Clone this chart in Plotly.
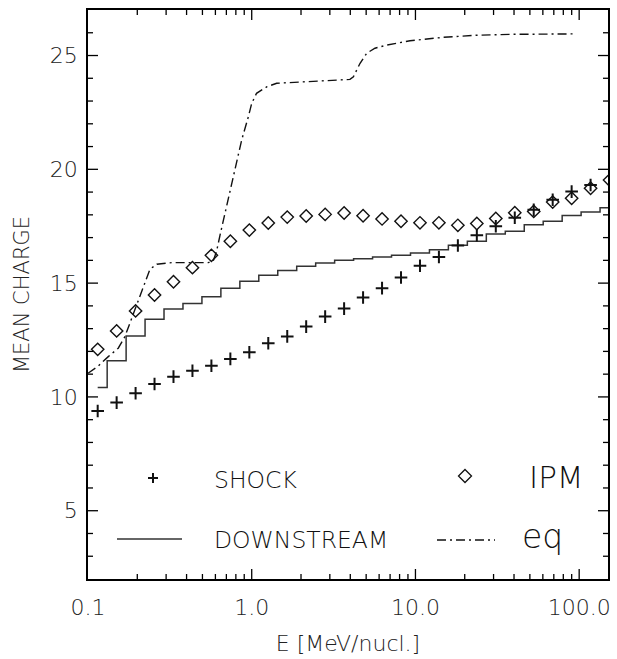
import math
import plotly.graph_objects as go

# ---------------- data ----------------
energy = [0.1146, 0.1496, 0.1953, 0.2549, 0.3328, 0.4345, 0.5672, 0.7405, 0.9669,
          1.262, 1.648, 2.151, 2.809, 3.667, 4.788, 6.252, 8.163, 10.66, 13.91,
          18.16, 23.71, 30.96, 40.43, 52.78, 68.91, 89.95, 117.4, 153.3]

shock = [9.38, 9.75, 10.16, 10.57, 10.89, 11.15, 11.37, 11.67, 11.96, 12.36,
         12.66, 13.09, 13.53, 13.88, 14.37, 14.78, 15.25, 15.76, 16.15, 16.65,
         17.10, 17.50, 17.87, 18.22, 18.66, 19.02, 19.31]

ipm = [12.09, 12.90, 13.78, 14.48, 15.06, 15.68, 16.22, 16.84, 17.33, 17.64,
       17.90, 17.95, 18.02, 18.08, 17.96, 17.82, 17.72, 17.65, 17.65, 17.54,
       17.62, 17.84, 18.09, 18.15, 18.56, 18.73, 19.17, 19.53]

downstream = [10.41, 11.59, 12.68, 13.41, 13.86, 14.11, 14.40, 14.77, 15.08, 15.35,
              15.55, 15.74, 15.88, 16.00, 16.07, 16.15, 16.22, 16.32, 16.47, 16.66,
              16.84, 17.16, 17.28, 17.57, 17.72, 17.97, 18.12, 18.31]

eq_x = [0.1, 0.1156, 0.133, 0.153, 0.168, 0.185, 0.203, 0.223, 0.239, 0.263,
        0.325, 0.43, 0.543, 0.582, 0.61, 0.64, 0.687, 0.773, 0.869, 0.953, 1.0,
        1.07, 1.24, 1.42, 2.38, 3.98, 4.18, 4.59, 5.04, 5.41, 5.66, 6.68, 9.27,
        14.8, 23.6, 37.8, 60.4, 92.2]
eq_y = [11.04, 11.36, 11.77, 12.14, 12.65, 13.45, 14.26, 15.06, 15.61, 15.83,
        15.90, 15.90, 15.90, 15.98, 16.40, 17.10, 18.10, 19.80, 21.30, 22.30, 22.90,
        23.34, 23.63, 23.78, 23.88, 23.95, 24.07, 24.66, 25.10, 25.24, 25.32, 25.46,
        25.65, 25.80, 25.89, 25.93, 25.95, 25.95]

x_range = [0.1, 150]
y_range = [2, 27]
x_tickvals = [0.1, 1, 10, 100]
x_ticktext = ["0.1", "1.0", "10.0", "100.0"]
x_minor = [0.2, 0.3, 0.4, 0.5, 0.6, 0.7, 0.8, 0.9, 2, 3, 4, 5, 6, 7, 8, 9,
           20, 30, 40, 50, 60, 70, 80, 90]
y_tickvals = [5, 10, 15, 20, 25]
y_minor = [3, 4, 6, 7, 8, 9, 11, 12, 13, 14, 16, 17, 18, 19, 21, 22, 23, 24, 26]

legend_labels = ["SHOCK", "IPM", "DOWNSTREAM", "eq"]

# ---------------- style ----------------
W, H = 617, 659
ML, MR, MT, MB = 88, 9, 10, 80
PW, PH = W - ML - MR, H - MT - MB
FONT = "DejaVu Sans"
INK = "#111111"
AX = "#000000"
MAJOR_LEN, MINOR_LEN = 10, 5

log_span = math.log10(x_range[1]) - math.log10(x_range[0])
px_per_decade = PW / log_span
px_per_unit = PH / (y_range[1] - y_range[0])


def px2paper(px, py):
    return (px - ML) / PW, (H - MB - py) / PH


fig = go.Figure()

fig.add_trace(go.Scatter(
    x=eq_x, y=eq_y, mode="lines",
    line=dict(color=INK, width=1.4, dash="9px,4px,2px,4px"),
    showlegend=False, hoverinfo="skip"))

fig.add_trace(go.Scatter(
    x=energy, y=downstream, mode="lines", line_shape="hvh",
    line=dict(color="#333333", width=1.5),
    showlegend=False))

fig.add_trace(go.Scatter(
    x=energy, y=ipm, mode="markers",
    marker=dict(symbol="diamond-open", size=9.5, color=INK,
                line=dict(color=INK, width=1.4)),
    showlegend=False))

fig.add_trace(go.Scatter(
    x=energy[:len(shock)], y=shock, mode="markers",
    marker=dict(symbol="cross-thin", size=9, color=INK,
                line=dict(color=INK, width=2)),
    showlegend=False))

# ---------------- inward tick marks on all four sides (one line trace) ----------------
tx, ty = [], []
for vals, ln in ((x_tickvals[1:], MAJOR_LEN), (x_minor, MINOR_LEN)):
    dy = ln / px_per_unit
    for v in vals:
        tx += [v, v, None, v, v, None]
        ty += [y_range[0], y_range[0] + dy, None, y_range[1], y_range[1] - dy, None]
for vals, ln in ((y_tickvals, MAJOR_LEN), (y_minor, MINOR_LEN)):
    f = 10 ** (ln / px_per_decade)
    for v in vals:
        tx += [x_range[0], x_range[0] * f, None, x_range[1], x_range[1] / f, None]
        ty += [v, v, None, v, v, None]
fig.add_trace(go.Scatter(x=tx, y=ty, mode="lines", connectgaps=False,
                         line=dict(color=AX, width=1.3), hoverinfo="skip",
                         showlegend=False))

# ---------------- manual legend ----------------
shapes = []
cx, cy, r = 153, 478, 5
x0, y0 = px2paper(cx - r, cy)
x1, y1 = px2paper(cx + r, cy)
shapes.append(dict(type="line", xref="paper", yref="paper", x0=x0, y0=y0, x1=x1, y1=y1,
                   line=dict(color=INK, width=2)))
x0, y0 = px2paper(cx, cy - r)
x1, y1 = px2paper(cx, cy + r)
shapes.append(dict(type="line", xref="paper", yref="paper", x0=x0, y0=y0, x1=x1, y1=y1,
                   line=dict(color=INK, width=2)))
cx, cy, r = 465, 476, 6.5
pts = [px2paper(cx, cy - r), px2paper(cx + r, cy), px2paper(cx, cy + r), px2paper(cx - r, cy)]
path = "M " + " L ".join(f"{p[0]:.4f},{p[1]:.4f}" for p in pts) + " Z"
shapes.append(dict(type="path", xref="paper", yref="paper", path=path,
                   line=dict(color=INK, width=1.3)))
x0, y0 = px2paper(117, 539)
x1, y1 = px2paper(182, 539)
shapes.append(dict(type="line", xref="paper", yref="paper", x0=x0, y0=y0, x1=x1, y1=y1,
                   line=dict(color="#333333", width=1.3)))
x0, y0 = px2paper(437, 540)
x1, y1 = px2paper(495, 540)
shapes.append(dict(type="line", xref="paper", yref="paper", x0=x0, y0=y0, x1=x1, y1=y1,
                   line=dict(color=INK, width=1.3, dash="9px,4px,2px,4px")))

annotations = []
for label, (px, py), size in zip(legend_labels,
                                 [(212, 480), (527, 477), (212, 540), (520, 536)],
                                 [23.5, 31, 23.5, 33]):
    ax, ay = px2paper(px, py)
    annotations.append(dict(text=label, xref="paper", yref="paper", x=ax, y=ay,
                            xanchor="left", yanchor="middle", showarrow=False,
                            font=dict(family=FONT, size=size, color=INK, weight=200)))

axis_common = dict(
    showline=True, linecolor=AX, linewidth=1.6, mirror=True,
    ticks="", showgrid=False, zeroline=False, automargin=False,
    tickfont=dict(family=FONT, size=22, color="#222222", weight=200),
)

fig.update_layout(
    template="none",
    width=W, height=H,
    margin=dict(l=ML, r=MR, t=MT, b=MB, autoexpand=False),
    paper_bgcolor="white", plot_bgcolor="white",
    showlegend=False,
    shapes=shapes, annotations=annotations,
    xaxis=dict(
        type="log", range=[math.log10(x_range[0]), math.log10(x_range[1])],
        tickmode="array", tickvals=x_tickvals, ticktext=x_ticktext,
        ticklabelstandoff=8,
        title=dict(text="E [MeV/nucl.]", standoff=16,
                   font=dict(family=FONT, size=22, color="#222222", weight=200)),
        **axis_common,
    ),
    yaxis=dict(
        range=y_range,
        tickmode="array", tickvals=y_tickvals,
        ticklabelstandoff=4,
        title=dict(text="MEAN CHARGE", standoff=14,
                   font=dict(family=FONT, size=21, color="#222222", weight=200)),
        **axis_common,
    ),
)

fig.write_html("out.html", config={"displayModeBar": False},
               post_script="document.body.style.margin='0';document.body.style.padding='0';")
